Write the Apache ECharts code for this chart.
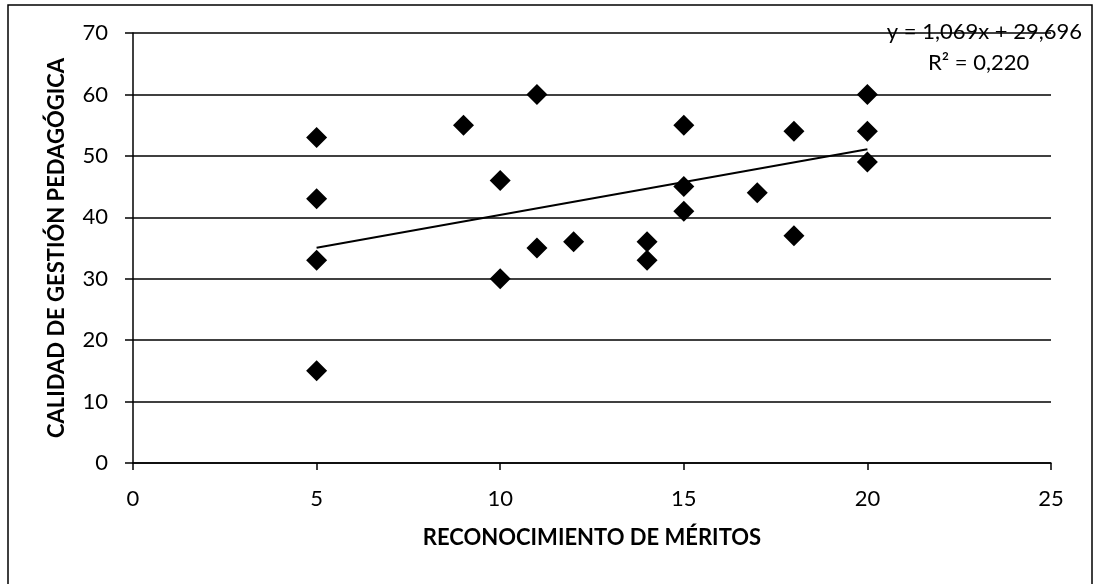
<!DOCTYPE html>
<html><head><meta charset="utf-8">
<script src="https://cdn.jsdelivr.net/npm/echarts@6/dist/echarts.min.js"></script>
<style>html,body{margin:0;padding:0;background:#fff}#c{width:1095px;height:584px}</style>
</head><body><div id="c"></div>
<script>
var reconocimiento = [5,5,5,5,9,10,10,11,11,12,14,14,15,15,15,17,18,18,20,20,20];
var calidad        = [53,43,33,15,55,46,30,60,35,36,36,33,55,45,41,44,54,37,60,54,49];
var trendX = [5,20];
var trendY = [35.04,51.08];
var xTicks = [0,5,10,15,20,25];
var yTicks = [0,10,20,30,40,50,60,70];
var eqText = 'y = 1,069x + 29,696';
var r2Text = 'R² = 0,220';
var xTitle = 'RECONOCIMIENTO DE MÉRITOS';
var yTitle = 'CALIDAD DE GESTIÓN PEDAGÓGICA';

var FONT = 'Lato';
var pts = reconocimiento.map(function(x,i){return [x, calidad[i]];});
var trend = trendX.map(function(x,i){return [x, trendY[i]];});

var chart = echarts.init(document.getElementById('c'), null, {renderer:'canvas'});
chart.setOption({
  animation:false,
  backgroundColor:'#fff',
  grid:{left:133, right:44, top:33, bottom:121},
  xAxis:{
    type:'value', min:xTicks[0], max:xTicks[xTicks.length-1], interval:5,
    name:xTitle, nameLocation:'middle', nameGap:64,
    nameTextStyle:{fontFamily:FONT, fontWeight:'bold', fontSize:22, color:'#000'},
    axisLine:{show:true, onZero:false, lineStyle:{color:'#000', width:1.5}},
    axisTick:{show:true, length:7, lineStyle:{color:'#000', width:1.5}},
    axisLabel:{fontFamily:FONT, fontSize:22, color:'#000', margin:25},
    splitLine:{show:false}
  },
  yAxis:{
    type:'value', min:yTicks[0], max:yTicks[yTicks.length-1], interval:10,
    name:yTitle, nameLocation:'middle', nameGap:65, nameRotate:90,
    nameTextStyle:{fontFamily:FONT, fontWeight:'bold', fontSize:22, color:'#000'},
    axisLine:{show:true, onZero:false, lineStyle:{color:'#000', width:1.5}},
    axisTick:{show:true, length:8, lineStyle:{color:'#000', width:1.5}},
    axisLabel:{fontFamily:FONT, fontSize:22, color:'#000', margin:25},
    splitLine:{show:true, lineStyle:{color:'#000', width:1.5}}
  },
  graphic:[
    {type:'polyline', shape:{points:[[8,584],[8,5],[1092,5],[1092,584]]}, style:{stroke:'#000', lineWidth:1.5, fill:null}, z:0},
    {type:'text', right:13, top:21, style:{text:eqText, fontFamily:FONT, fontSize:22, fill:'#000'}, z:10},
    {type:'text', left:928, top:52, style:{text:r2Text, fontFamily:FONT, fontSize:22, fill:'#000'}, z:10}
  ],
  series:[
    {type:'scatter', data:pts, symbol:'diamond', symbolSize:21,
     itemStyle:{color:'#000', opacity:1}, z:3},
    {type:'line', data:trend, symbol:'none', lineStyle:{color:'#000', width:2}, z:4}
  ]
});
</script></body></html>
